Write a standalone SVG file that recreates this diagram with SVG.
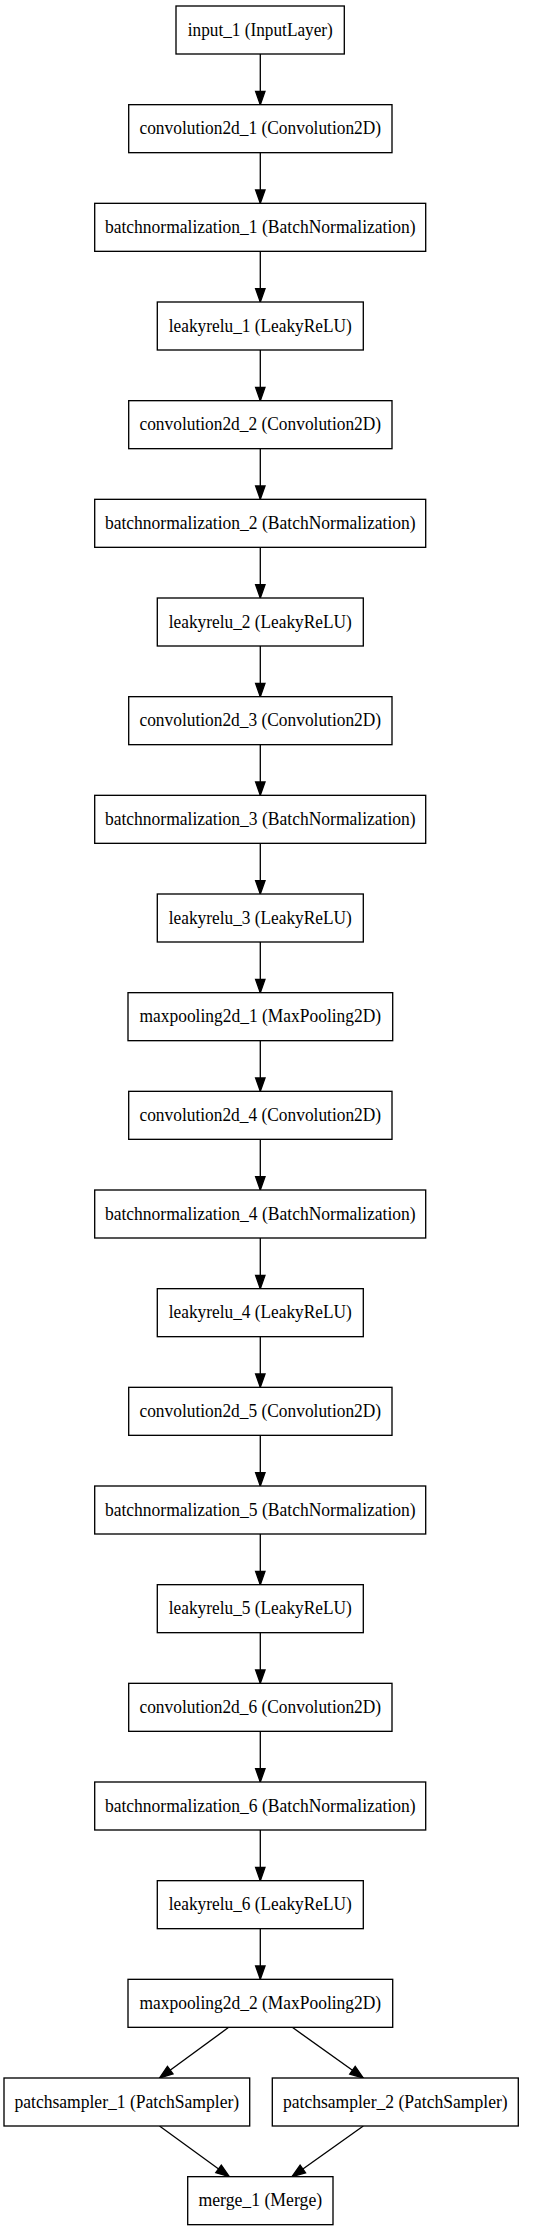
<svg xmlns="http://www.w3.org/2000/svg" width="543" height="2232" viewBox="0 0 543 2232">
<style>
rect{fill:#fff;stroke:#000;stroke-width:1.33}
text{font-family:"Liberation Serif","Times New Roman",serif;font-size:18px;text-anchor:middle;fill:#000}
.in{}
#edges path{stroke:#000;stroke-width:1.33;fill:none;marker-end:url(#ah)}
</style>
<defs>
<marker id="ah" markerUnits="userSpaceOnUse" orient="auto" refX="13.3" refY="0" markerWidth="20" markerHeight="20" overflow="visible">
<path d="M0,-4.7 L13.3,0 L0,4.7 z" fill="#000" stroke="#000" stroke-width="1.33"/>
</marker>
</defs>
<rect x="0" y="0" width="543" height="2232" style="stroke:none"/>
<g id="edges">
<path d="M260.3,54 V104.67"/>
<path d="M260.3,152.67 V203.33"/>
<path d="M260.3,251.33 V302"/>
<path d="M260.3,350 V400.67"/>
<path d="M260.3,448.67 V499.33"/>
<path d="M260.3,547.33 V598"/>
<path d="M260.3,646 V696.67"/>
<path d="M260.3,744.67 V795.33"/>
<path d="M260.3,843.33 V894"/>
<path d="M260.3,942 V992.67"/>
<path d="M260.3,1040.67 V1091.33"/>
<path d="M260.3,1139.33 V1190"/>
<path d="M260.3,1238 V1288.67"/>
<path d="M260.3,1336.67 V1387.33"/>
<path d="M260.3,1435.33 V1486"/>
<path d="M260.3,1534 V1584.67"/>
<path d="M260.3,1632.67 V1683.33"/>
<path d="M260.3,1731.33 V1782"/>
<path d="M260.3,1830 V1880.67"/>
<path d="M260.3,1928.67 V1979.33"/>
<path d="M228.7,2027.33 L159.5,2078"/>
<path d="M292.3,2027.33 L363.3,2078"/>
<path d="M159.5,2126 L229.3,2176.67"/>
<path d="M363.3,2126 L292,2176.67"/>
</g>
<g id="input_1"><rect x="176" y="6" width="168.3" height="48"/><text x="260.3" y="35.5" textLength="145" lengthAdjust="spacingAndGlyphs">input_1 (InputLayer)</text></g>
<g id="convolution2d_1"><rect x="128.7" y="104.67" width="263.3" height="48"/><text x="260.3" y="134.17" textLength="241.7" lengthAdjust="spacingAndGlyphs">convolution2d_1 (Convolution2D)</text></g>
<g id="batchnormalization_1"><rect x="94.7" y="203.33" width="331" height="48"/><text x="260.3" y="232.83" textLength="310.7" lengthAdjust="spacingAndGlyphs">batchnormalization_1 (BatchNormalization)</text></g>
<g id="leakyrelu_1"><rect x="157.3" y="302" width="206" height="48"/><text x="260.3" y="331.5" textLength="183" lengthAdjust="spacingAndGlyphs">leakyrelu_1 (LeakyReLU)</text></g>
<g id="convolution2d_2"><rect x="128.7" y="400.67" width="263.3" height="48"/><text x="260.3" y="430.17" textLength="241.7" lengthAdjust="spacingAndGlyphs">convolution2d_2 (Convolution2D)</text></g>
<g id="batchnormalization_2"><rect x="94.7" y="499.33" width="331" height="48"/><text x="260.3" y="528.83" textLength="310.7" lengthAdjust="spacingAndGlyphs">batchnormalization_2 (BatchNormalization)</text></g>
<g id="leakyrelu_2"><rect x="157.3" y="598" width="206" height="48"/><text x="260.3" y="627.5" textLength="183" lengthAdjust="spacingAndGlyphs">leakyrelu_2 (LeakyReLU)</text></g>
<g id="convolution2d_3"><rect x="128.7" y="696.67" width="263.3" height="48"/><text x="260.3" y="726.17" textLength="241.7" lengthAdjust="spacingAndGlyphs">convolution2d_3 (Convolution2D)</text></g>
<g id="batchnormalization_3"><rect x="94.7" y="795.33" width="331" height="48"/><text x="260.3" y="824.83" textLength="310.7" lengthAdjust="spacingAndGlyphs">batchnormalization_3 (BatchNormalization)</text></g>
<g id="leakyrelu_3"><rect x="157.3" y="894" width="206" height="48"/><text x="260.3" y="923.5" textLength="183" lengthAdjust="spacingAndGlyphs">leakyrelu_3 (LeakyReLU)</text></g>
<g id="maxpooling2d_1"><rect x="128" y="992.67" width="264.7" height="48"/><text x="260.3" y="1022.17" textLength="241.7" lengthAdjust="spacingAndGlyphs">maxpooling2d_1 (MaxPooling2D)</text></g>
<g id="convolution2d_4"><rect x="128.7" y="1091.33" width="263.3" height="48"/><text x="260.3" y="1120.83" textLength="241.7" lengthAdjust="spacingAndGlyphs">convolution2d_4 (Convolution2D)</text></g>
<g id="batchnormalization_4"><rect x="94.7" y="1190" width="331" height="48"/><text x="260.3" y="1219.5" textLength="310.7" lengthAdjust="spacingAndGlyphs">batchnormalization_4 (BatchNormalization)</text></g>
<g id="leakyrelu_4"><rect x="157.3" y="1288.67" width="206" height="48"/><text x="260.3" y="1318.17" textLength="183" lengthAdjust="spacingAndGlyphs">leakyrelu_4 (LeakyReLU)</text></g>
<g id="convolution2d_5"><rect x="128.7" y="1387.33" width="263.3" height="48"/><text x="260.3" y="1416.83" textLength="241.7" lengthAdjust="spacingAndGlyphs">convolution2d_5 (Convolution2D)</text></g>
<g id="batchnormalization_5"><rect x="94.7" y="1486" width="331" height="48"/><text x="260.3" y="1515.5" textLength="310.7" lengthAdjust="spacingAndGlyphs">batchnormalization_5 (BatchNormalization)</text></g>
<g id="leakyrelu_5"><rect x="157.3" y="1584.67" width="206" height="48"/><text x="260.3" y="1614.17" textLength="183" lengthAdjust="spacingAndGlyphs">leakyrelu_5 (LeakyReLU)</text></g>
<g id="convolution2d_6"><rect x="128.7" y="1683.33" width="263.3" height="48"/><text x="260.3" y="1712.83" textLength="241.7" lengthAdjust="spacingAndGlyphs">convolution2d_6 (Convolution2D)</text></g>
<g id="batchnormalization_6"><rect x="94.7" y="1782" width="331" height="48"/><text x="260.3" y="1811.5" textLength="310.7" lengthAdjust="spacingAndGlyphs">batchnormalization_6 (BatchNormalization)</text></g>
<g id="leakyrelu_6"><rect x="157.3" y="1880.67" width="206" height="48"/><text x="260.3" y="1910.17" textLength="183" lengthAdjust="spacingAndGlyphs">leakyrelu_6 (LeakyReLU)</text></g>
<g id="maxpooling2d_2"><rect x="128" y="1979.33" width="264.7" height="48"/><text x="260.3" y="2008.83" textLength="241.7" lengthAdjust="spacingAndGlyphs">maxpooling2d_2 (MaxPooling2D)</text></g>
<g id="patchsampler_1"><rect x="4" y="2078" width="245.7" height="48"/><text x="126.8" y="2107.5" textLength="224.7" lengthAdjust="spacingAndGlyphs">patchsampler_1 (PatchSampler)</text></g>
<g id="patchsampler_2"><rect x="272.3" y="2078" width="246" height="48"/><text x="395.3" y="2107.5" textLength="224.7" lengthAdjust="spacingAndGlyphs">patchsampler_2 (PatchSampler)</text></g>
<g id="merge_1"><rect x="187.7" y="2176.67" width="145.3" height="48"/><text x="260.3" y="2206.17" textLength="123.7" lengthAdjust="spacingAndGlyphs">merge_1 (Merge)</text></g>
</svg>
